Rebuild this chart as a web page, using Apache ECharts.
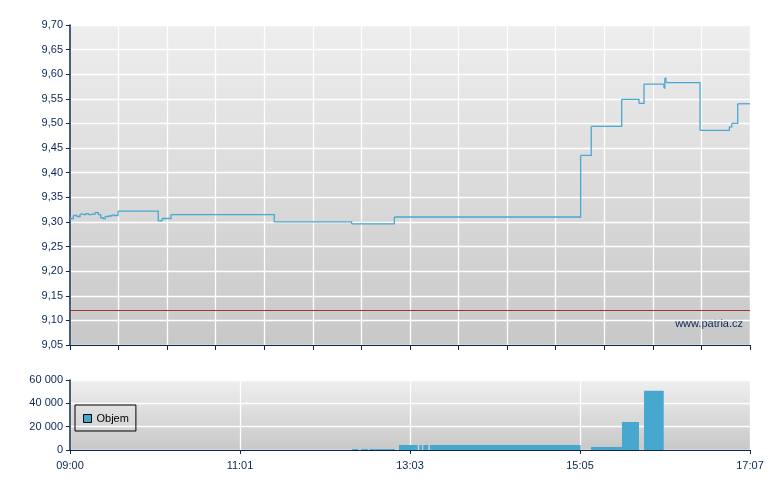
<!DOCTYPE html>
<html>
<head>
<meta charset="utf-8">
<script src="https://cdn.jsdelivr.net/npm/echarts@6/dist/echarts.min.js"></script>
<style>html,body{margin:0;padding:0;background:#fff;}#c{width:780px;height:490px;}</style>
</head>
<body>
<div id="c"></div>
<script>
// minutes since 09:00 and price after each change
const priceTimes = [0, 2.4, 4.8, 7.2, 9.5, 11.2, 13.1, 15.5, 17.9, 20.3, 22, 23.9, 25.1, 27.5, 29.9, 31.5, 34.4, 63.2, 65.9, 72.3, 146.3, 201.7, 232.3, 365.7, 373.3, 395.1, 407.5, 411.1, 425.4, 426.0, 426.8, 451.2, 472.2, 473.9, 478.2, 487];
const priceValues = [9.307, 9.313, 9.311, 9.316, 9.315, 9.317, 9.315, 9.316, 9.319, 9.315, 9.308, 9.306, 9.311, 9.312, 9.314, 9.313, 9.322, 9.302, 9.307, 9.315, 9.300, 9.296, 9.310, 9.435, 9.494, 9.549, 9.541, 9.580, 9.572, 9.592, 9.583, 9.486, 9.493, 9.500, 9.540, 9.540];
const prevClose = 9.115;
// volume bars: start minute, end minute, volume
const volStart = [202.0, 208.4, 214.4, 235.6, 250.2, 253.0, 257.8, 373.1, 395.3, 411.1];
const volEnd   = [206.3, 213.4, 232.8, 249.0, 252.1, 256.6, 365.7, 395.3, 407.5, 425.2];
const volValue = [800, 800, 800, 4300, 4300, 4300, 4300, 2600, 24000, 50800];
const totalMinutes = 487;
const priceMin = 9.05, priceMax = 9.70, priceStep = 0.05;
const volMax = 60000, volStep = 20000;

const navy = '#0c2656';
const font = '"Liberation Sans", Arial, sans-serif';
const blue = '#47a7cf';
const lineBlue = '#4aa8d2';

function fmtTime(v) {
  const m = Math.floor(v + 1e-6);
  const h = 9 + Math.floor(m / 60);
  const mm = m % 60;
  return (h < 10 ? '0' : '') + h + ':' + (mm < 10 ? '0' : '') + mm;
}
function bgGrad(top, bottom) {
  return {type: 'linear', x: 0, y: 0, x2: 0, y2: 1, colorStops: [{offset: 0, color: top}, {offset: 1, color: bottom}]};
}

// each step segment: [t_i, t_next, v_i, v_next]
const priceData = priceTimes.slice(0, -1).map((t, i) => [t, priceTimes[i + 1], priceValues[i], priceValues[i + 1]]);
const volData = volStart.map((s, i) => [s, volEnd[i], volValue[i]]);

const chart = echarts.init(document.getElementById('c'), null, {renderer: 'canvas'});
chart.setOption({
  animation: false,
  textStyle: {fontFamily: font},
  grid: [
    {left: 70, right: 30, top: 25, height: 320, show: true, borderWidth: 0, backgroundColor: bgGrad('#eeeeee', '#c8c8c8')},
    {left: 70, right: 30, top: 380, height: 70, show: true, borderWidth: 0, backgroundColor: bgGrad('#efefef', '#c8c8c8')}
  ],
  xAxis: [
    {type: 'value', gridIndex: 0, min: 0, max: totalMinutes, interval: totalMinutes / 14,
      axisLine: {show: true, onZero: false, lineStyle: {color: navy, width: 1}},
      axisTick: {show: true, inside: false, length: 5, lineStyle: {color: navy}},
      axisLabel: {show: false},
      splitLine: {show: true, lineStyle: {color: '#ffffff', width: 1.3}}},
    {type: 'value', gridIndex: 1, min: 0, max: totalMinutes, interval: totalMinutes / 4,
      axisLine: {show: true, onZero: false, lineStyle: {color: navy, width: 1}},
      axisTick: {show: true, inside: false, length: 4, lineStyle: {color: navy}},
      axisLabel: {show: true, color: navy, fontSize: 11, fontFamily: font, margin: 10, formatter: fmtTime},
      splitLine: {show: true, lineStyle: {color: '#ffffff', width: 1.3}}}
  ],
  yAxis: [
    {type: 'value', gridIndex: 0, min: priceMin, max: priceMax, interval: priceStep,
      axisLine: {show: true, onZero: false, lineStyle: {color: navy, width: 1.5}},
      axisTick: {show: true, inside: false, length: 4, lineStyle: {color: navy}},
      axisLabel: {color: navy, fontSize: 11, fontFamily: font, margin: 7,
        formatter: v => v.toFixed(2).replace('.', ',')},
      splitLine: {show: true, lineStyle: {color: '#ffffff', width: 1.3}}},
    {type: 'value', gridIndex: 1, min: 0, max: volMax, interval: volStep,
      axisLine: {show: true, onZero: false, lineStyle: {color: navy, width: 1.5}},
      axisTick: {show: true, inside: false, length: 4, lineStyle: {color: navy}},
      axisLabel: {color: navy, fontSize: 11, fontFamily: font, margin: 7,
        formatter: v => String(Math.round(v)).replace(/\B(?=(\d{3})+(?!\d))/g, ' ')},
      splitLine: {show: true, lineStyle: {color: '#ffffff', width: 1.3}}}
  ],
  legend: {
    show: true, left: 75, top: 405, orient: 'vertical',
    borderColor: '#000', borderWidth: 1, padding: [8, 7, 7, 8],
    itemWidth: 8, itemHeight: 8, itemGap: 4,
    textStyle: {color: '#000', fontSize: 11, fontFamily: font},
    data: [{name: 'Objem', icon: 'rect', itemStyle: {color: blue, borderColor: '#000', borderWidth: 1}}]
  },
  graphic: [{
    type: 'text', right: 37, top: 318,
    style: {text: 'www.patria.cz', fill: navy, font: '11px ' + font}
  }],
  series: [
    {name: 'Cena', type: 'custom', xAxisIndex: 0, yAxisIndex: 0, data: priceData,
      encode: {x: [0, 1], y: [2, 3]},
      renderItem: function (params, api) {
        const a = api.coord([api.value(0), api.value(2)]);
        const b = api.coord([api.value(1), api.value(2)]);
        const c = api.coord([api.value(1), api.value(3)]);
        return {type: 'polyline', shape: {points: [a, b, c]},
          style: {stroke: lineBlue, lineWidth: 1.3, fill: null, lineJoin: 'miter'}};
      },
      markLine: {silent: true, symbol: 'none', label: {show: false},
        lineStyle: {color: '#a03535', width: 1, type: 'solid'}, data: [{yAxis: prevClose}]}},
    {name: 'Objem', type: 'custom', xAxisIndex: 1, yAxisIndex: 1, data: volData,
      itemStyle: {color: blue},
      encode: {x: [0, 1], y: 2},
      renderItem: function (params, api) {
        const s = api.coord([api.value(0), 0]);
        const e = api.coord([api.value(1), api.value(2)]);
        return {type: 'rect', shape: {x: s[0], y: e[1], width: e[0] - s[0], height: s[1] - e[1]},
          style: {fill: blue}};
      }}
  ]
});
</script>
</body>
</html>
